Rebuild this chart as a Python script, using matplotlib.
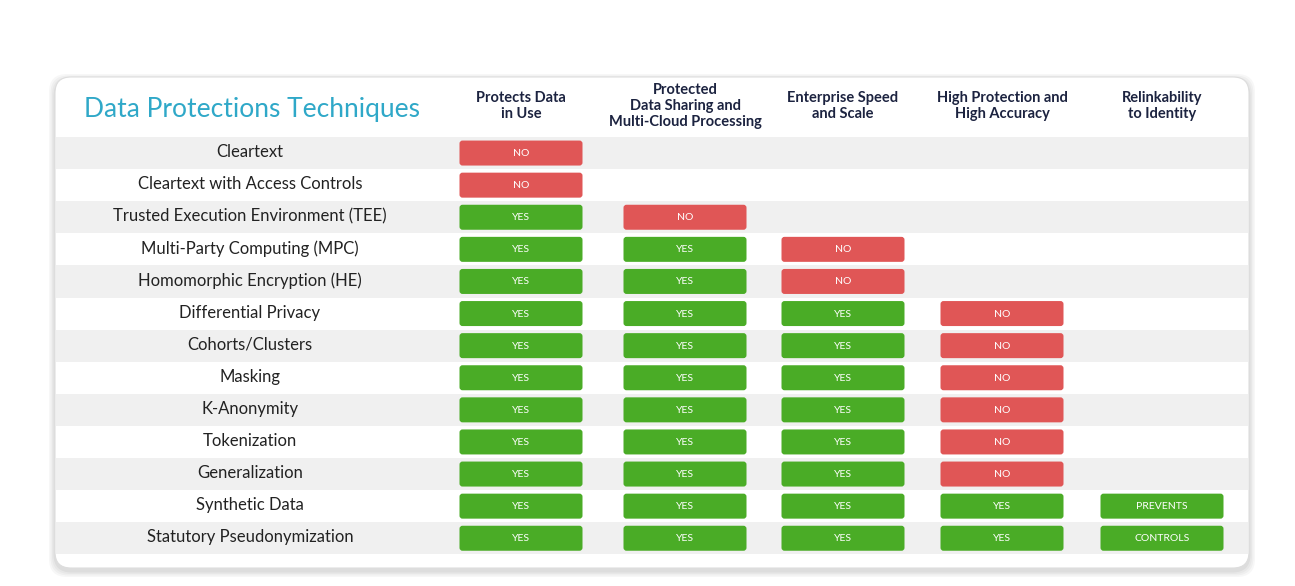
import matplotlib
matplotlib.use("Agg")
import matplotlib.pyplot as plt
from matplotlib.patches import FancyBboxPatch

TITLE = "Data Protections Techniques"
COLUMNS = ["Protects Data\nin Use", "Protected\nData Sharing and\nMulti-Cloud Processing",
           "Enterprise Speed\nand Scale", "High Protection and\nHigh Accuracy",
           "Relinkability\nto Identity"]
TECHNIQUES = ["Cleartext", "Cleartext with Access Controls",
              "Trusted Execution Environment (TEE)", "Multi-Party Computing (MPC)",
              "Homomorphic Encryption (HE)", "Differential Privacy", "Cohorts/Clusters",
              "Masking", "K-Anonymity", "Tokenization", "Generalization",
              "Synthetic Data", "Statutory Pseudonymization"]
STATUS = [
    ["NO", "", "", "", ""],
    ["NO", "", "", "", ""],
    ["YES", "NO", "", "", ""],
    ["YES", "YES", "NO", "", ""],
    ["YES", "YES", "NO", "", ""],
    ["YES", "YES", "YES", "NO", ""],
    ["YES", "YES", "YES", "NO", ""],
    ["YES", "YES", "YES", "NO", ""],
    ["YES", "YES", "YES", "NO", ""],
    ["YES", "YES", "YES", "NO", ""],
    ["YES", "YES", "YES", "NO", ""],
    ["YES", "YES", "YES", "YES", "PREVENTS"],
    ["YES", "YES", "YES", "YES", "CONTROLS"],
]

GREEN = "#4aac26"
RED = "#e05656"
NAVY = "#1c2340"
TEAL = "#2fa8c8"

fig = plt.figure(figsize=(12.95, 5.86), dpi=100)
ax = fig.add_axes([0, 0, 1, 1])
ax.set_xlim(0, 1295)
ax.set_ylim(586, 0)
ax.axis("off")

# card with soft shadow
for i, a in enumerate([0.03, 0.03, 0.03, 0.04]):
    pad = 12 - i * 3
    ax.add_patch(FancyBboxPatch((55 - pad / 2, 77 - pad / 2 + 3), 1194 + pad, 491 + pad,
                                boxstyle="round,pad=0,rounding_size=18", fc="black",
                                ec="none", alpha=a, zorder=0))
ax.add_patch(FancyBboxPatch((55, 77), 1194, 491, boxstyle="round,pad=0,rounding_size=16",
                            fc="white", ec="#dddddd", lw=0.8, zorder=1))

ax.text(84, 109, TITLE, color=TEAL, fontsize=19, family="Lato", va="center", zorder=3)

col_x = [521, 685, 843, 1002, 1162]
for x, c in zip(col_x, COLUMNS):
    ax.text(x, 106, c, ha="center", va="center", fontsize=10.5, fontweight="bold",
            color=NAVY, linespacing=1.15, family="Lato", zorder=3)

row_top = 137
row_h = 32.1
for r, (name, st) in enumerate(zip(TECHNIQUES, STATUS)):
    yc = row_top + row_h * (r + 0.5)
    if r % 2 == 0:
        ax.add_patch(plt.Rectangle((56, row_top + row_h * r), 1192, row_h,
                                   fc="#f0f0f0", ec="none", zorder=2))
    ax.text(250, yc - 1, name, ha="center", va="center", fontsize=12, color="#222222",
            family="Lato", zorder=3)
    for x, s in zip(col_x, st):
        if not s:
            continue
        ax.add_patch(FancyBboxPatch((x - 61.5, yc - 12.5), 123, 25,
                                    boxstyle="round,pad=0,rounding_size=3",
                                    fc=RED if s == "NO" else GREEN, ec="none", zorder=3))
        ax.text(x, yc + 0.5, s, ha="center", va="center", fontsize=7.5, color="white",
                family="Lato", zorder=4)

fig.savefig("out.png", dpi=100)
